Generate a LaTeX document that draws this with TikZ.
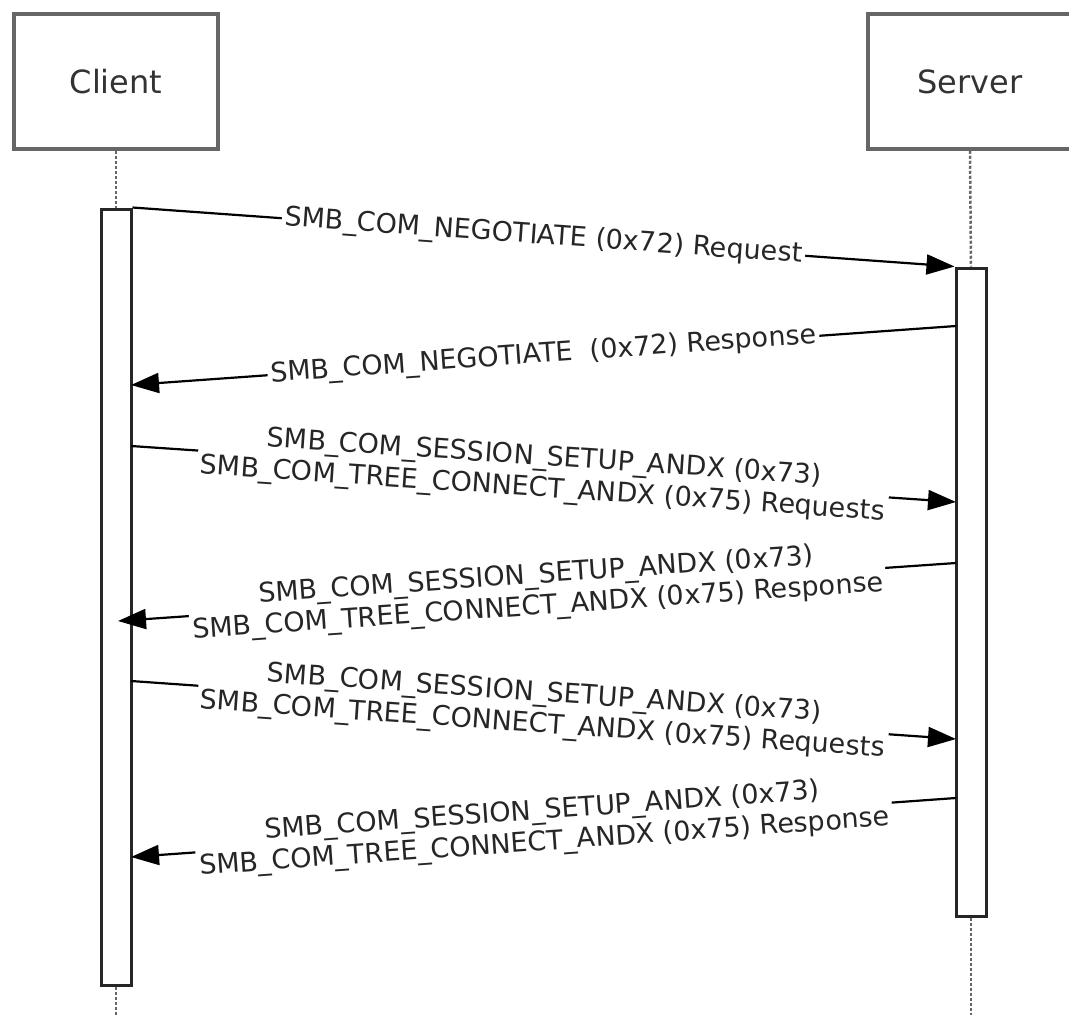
\documentclass[tikz,border=0pt]{standalone}
\usepackage{fontspec}
\setmainfont{DejaVu Sans}
\usepackage{tikz}
\usetikzlibrary{arrows.meta,positioning}

\begin{document}
\begin{tikzpicture}[x=1pt, y=-1pt,
  actor/.style={rectangle, draw=black!60, line width=3.5pt, minimum width=204pt,
    minimum height=135pt, text=black!80, font=\fontsize{32}{38}\selectfont},
  bar/.style={rectangle, draw=black!85, line width=3pt, fill=white,
    minimum width=30pt, inner sep=0pt},
  life/.style={draw=black!60, line width=2.5pt, dash pattern=on 3pt off 2pt},
  arr/.style={-{Triangle[length=28pt, width=20pt]}, line width=2.2pt, color=black},
  msg/.style={sloped, fill=white, inner sep=3pt, align=center, text=black!85,
    font=\fontsize{27}{31.5}\selectfont},
]
  \useasboundingbox (0,0) rectangle (1069,1015);

  \node[actor] (client) at (116,81.5) {Client};
  \node[actor] (server) at (970,81.5) {Server};

  \node[bar, minimum height=776pt] (cbar) at (116,597) {};
  \node[bar, minimum height=648pt] (sbar) at (971,592) {};

  \coordinate (cend) at (116,1015);
  \coordinate (send) at (971,1015);
  \draw[life] (client.south) -- (cbar.north);
  \draw[life] (cbar.south) -- (cend);
  \draw[life] (server.south) -- (sbar.north);
  \draw[life] (sbar.south) -- (send);

  % message end points
  \coordinate (m2a) at (956,326);  \coordinate (m2b) at (131,385);
  \coordinate (m3a) at (131,446);  \coordinate (m3b) at (956,502);
  \coordinate (m4a) at (956,563);  \coordinate (m4b) at (118,621);
  \coordinate (m5a) at (131,681);  \coordinate (m5b) at (956,739);
  \coordinate (m6a) at (956,798);  \coordinate (m6b) at (131,857);

  \draw[arr] (cbar.north east) -- node[msg] {SMB\_COM\_NEGOTIATE (0x72) Request} (sbar.north west);
  \draw[arr] (m2a) -- node[msg] {SMB\_COM\_NEGOTIATE~ (0x72) Response} (m2b);
  \draw[arr] (m3a) -- node[msg] {SMB\_COM\_SESSION\_SETUP\_ANDX (0x73)\\SMB\_COM\_TREE\_CONNECT\_ANDX (0x75) Requests} (m3b);
  \draw[arr] (m4a) -- node[msg] {SMB\_COM\_SESSION\_SETUP\_ANDX (0x73)\\SMB\_COM\_TREE\_CONNECT\_ANDX (0x75) Response} (m4b);
  \draw[arr] (m5a) -- node[msg] {SMB\_COM\_SESSION\_SETUP\_ANDX (0x73)\\SMB\_COM\_TREE\_CONNECT\_ANDX (0x75) Requests} (m5b);
  \draw[arr] (m6a) -- node[msg] {SMB\_COM\_SESSION\_SETUP\_ANDX (0x73)\\SMB\_COM\_TREE\_CONNECT\_ANDX (0x75) Response} (m6b);
\end{tikzpicture}
\end{document}
